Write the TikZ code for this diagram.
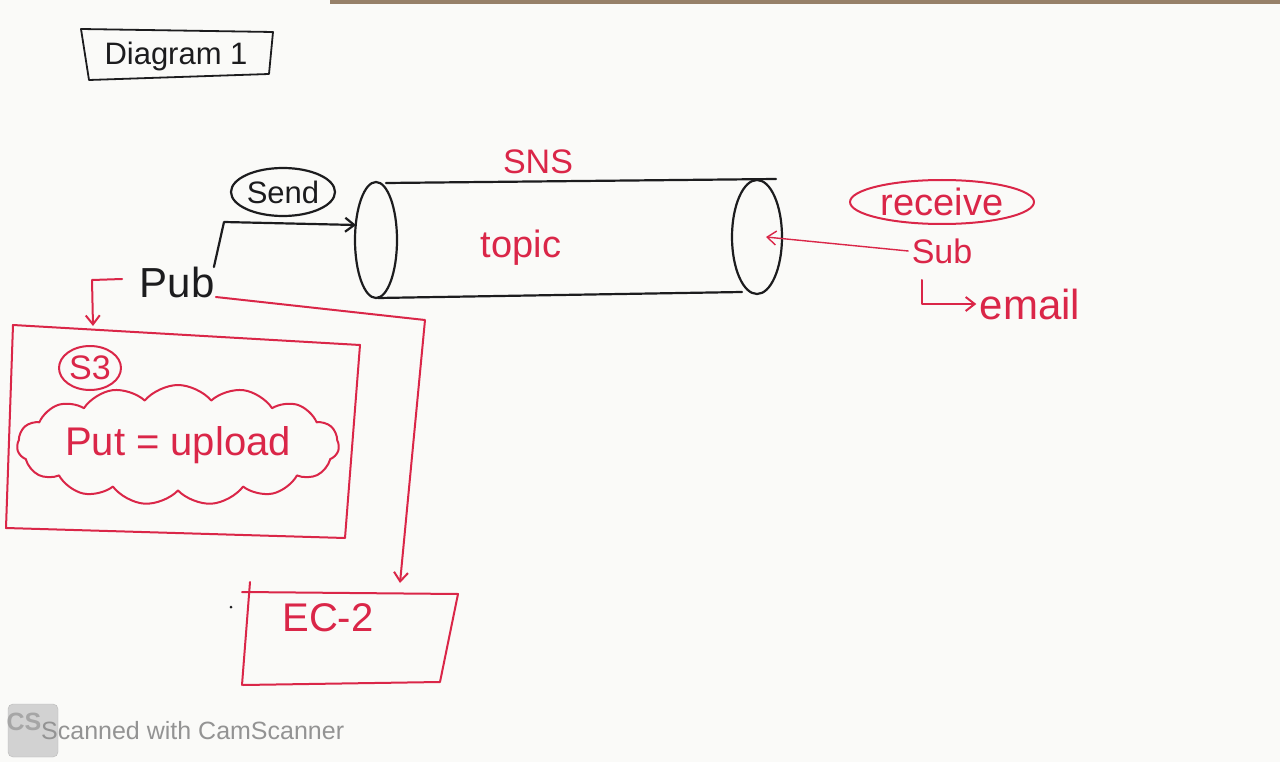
\documentclass[tikz,border=0pt]{standalone}
\usepackage{fontspec}
\setmainfont{Liberation Sans}
\usetikzlibrary{arrows.meta,shapes.geometric,shapes.symbols}
\definecolor{penred}{RGB}{218,38,72}
\definecolor{ink}{RGB}{28,28,30}
\definecolor{paper}{RGB}{250,250,248}
\newcommand{\hand}[1]{\fontsize{#1}{#1}\selectfont}
\tikzset{
	redpen/.style={line width=2pt, color=penred, line join=round, line cap=round},
	inkpen/.style={line width=2.2pt, color=ink, line join=round, line cap=round},
	tip/.style={-{Straight Barb[length=9pt,width=14pt]}},
}

\begin{document}
\begin{tikzpicture}[x=1pt, y=-1pt]
		%%%%% START %%%%%
		\useasboundingbox (0,0) rectangle (1280,762);
		\fill[paper] (0,0) rectangle (1280,762);
		\fill[color=brown!35!gray] (330,0) rectangle (1280,4);
		
		% title
		\draw[inkpen, line width=1.8pt] (81,29) -- (273,32) -- (269,74) -- (89,80) -- cycle;
		\node[color=ink, font=\hand{31}] (title) at (176,56) {Diagram 1};
		
		% SNS topic
		\draw[inkpen] (376,240) ellipse [x radius=21pt, y radius=58pt];
		\draw[inkpen] (757,237) ellipse [x radius=25pt, y radius=57pt];
		\draw[inkpen] (386,183) -- (776,179);
		\draw[inkpen] (378,298) -- (742,292);
		\coordinate (topicL) at (356,225);
		\coordinate (topicR) at (766,237);
		\node[color=penred, font=\hand{34}] (sns) at (538,162) {SNS};
		\node[color=penred, font=\hand{38}] (topic) at (521,248) {topic};
		
		% publisher
		\node[color=ink, font=\hand{42}] (pub) at (177,282) {Pub};
		\node[inkpen, draw, ellipse, minimum width=104pt, minimum height=48pt, inner sep=0pt, font=\hand{31}] (send) at (283,192) {Send};
		\coordinate (sendbend) at (224,222);
		\draw[inkpen, tip] ([xshift=-4pt, yshift=-4pt]pub.north east) -- (sendbend) -- (topicL);
		
		% subscriber
		\node[redpen, draw, ellipse, minimum width=184pt, minimum height=44pt, inner sep=0pt, font=\hand{38}] (receive) at (942,202) {receive};
		\node[color=penred, font=\hand{34}] (sub) at (942,251) {Sub};
		\node[color=penred, font=\hand{42}] (email) at (1030,304) {email};
		\draw[redpen, line width=1.4pt, tip] (sub.west) -- (topicR);
		\draw[redpen, tip] (922,280) |- (email.west);
		
		% S3
		\draw[redpen] (13,325) -- (360,345) -- (345,538) -- (6,528) -- cycle;
		\node[redpen, draw, ellipse, minimum width=62pt, minimum height=44pt, inner sep=0pt, font=\hand{34}] (s3) at (90,368) {S3};
		\node[redpen, draw, cloud, cloud puffs=15, cloud puff arc=100, cloud ignores aspect, minimum width=322pt, minimum height=120pt, inner sep=0pt, font=\hand{40}] (put) at (178,445) {Put = upload};
		\coordinate (s3in) at (93,326);
		\draw[redpen, tip] ([xshift=-14pt, yshift=3pt]pub.west) -- (92,280) -- (s3in);
		
		% EC-2
		\draw[redpen] (242,592) -- (458,594) -- (440,682) -- (243,685);
		\draw[redpen] (250,582) -- (242,685);
		\fill[color=ink] (231,607) circle (1.5pt);
		\node[color=penred, font=\hand{40}] (ec2) at (328,618) {EC-2};
		\coordinate (ecbend) at (425,320);
		\coordinate (ec2in) at (400,583);
		\draw[redpen, tip] ([yshift=-15pt, xshift=-2pt]pub.east) -- (ecbend) -- (ec2in);
		
		% watermark
		\draw[fill=gray!35, draw=gray!55, rounded corners=5pt] (8,704) rectangle (58,757);
		\node[color=gray!70, font=\hand{25}\bfseries, inner sep=0pt] (cs) at (24,722) {CS};
		\node[color=gray!85, font=\hand{25}, anchor=west, inner sep=0pt] (scanned) at (41,731) {Scanned with CamScanner};
		%%%%% END %%%%%
\end{tikzpicture}
\end{document}
